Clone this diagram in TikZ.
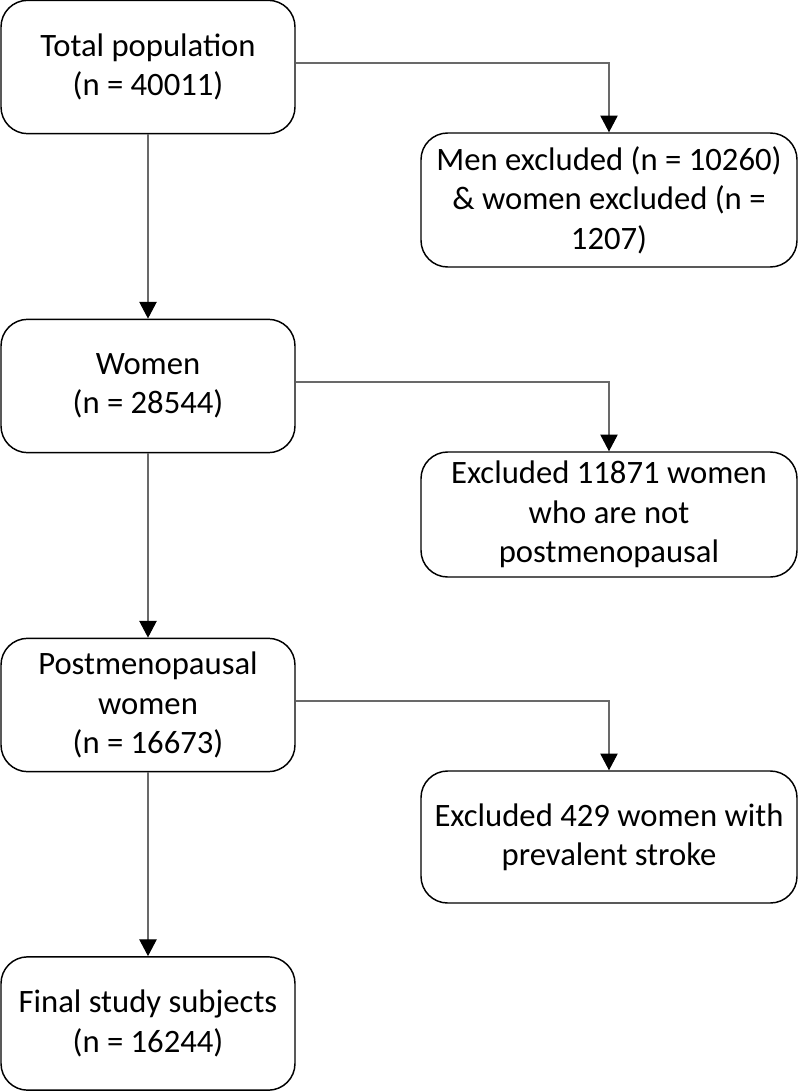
\documentclass[tikz,border=0pt]{standalone}
\usepackage{fontspec}
\setmainfont{Carlito}
\usepackage{xcolor}
\usetikzlibrary{arrows.meta}
\definecolor{linkgray}{RGB}{105,105,105}

\begin{document}
\begin{tikzpicture}[x=0.75pt, y=-0.75pt,
		font=\fontsize{24.5}{29.5}\selectfont,
		box/.style={draw=black, line width=1.1pt, rounded corners=20pt, align=center, inner sep=0pt},
		leftbox/.style={box, minimum width=220.5pt, minimum height=100pt},
		rightbox/.style={box, minimum width=282pt, minimum height=99pt},
		link/.style={draw=linkgray, line width=0.8pt, -{Triangle[length=12.5pt, width=13pt, black]}}]
	
	\useasboundingbox (0,0) rectangle (800,1091);
	
	% Main column
	\node[leftbox] (total) at (148,67) {Total population\\(n = 40011)};
	\node[leftbox] (women) at (148,386) {Women\\(n = 28544)};
	\node[leftbox] (postmeno) at (148,705) {Postmenopausal\\women\\(n = 16673)};
	\node[leftbox] (final) at (148,1023.5) {Final study subjects\\(n = 16244)};
	
	% Exclusions
	\node[rightbox, minimum height=100.5pt] (exclmen) at (609,200) {Men excluded (n = 10260)\\\& women excluded (n =\\1207)};
	\node[rightbox, minimum height=93.75pt] (exclpre) at (609,514.5) {Excluded 11871 women\\who are not\\postmenopausal};
	\node[rightbox] (exclstroke) at (609,837) {Excluded 429 women with\\prevalent stroke};
	
	% Connectors
	\draw[link] (total) -- (women);
	\draw[link] (women) -- (postmeno);
	\draw[link] (postmeno) -- (final);
	\draw[link] ([yshift=3pt]total.east) -| (exclmen.north);
	\draw[link] ([yshift=3pt]women.east) -| (exclpre.north);
	\draw[link] ([yshift=3pt]postmeno.east) -| (exclstroke.north);
	
\end{tikzpicture}
\end{document}
